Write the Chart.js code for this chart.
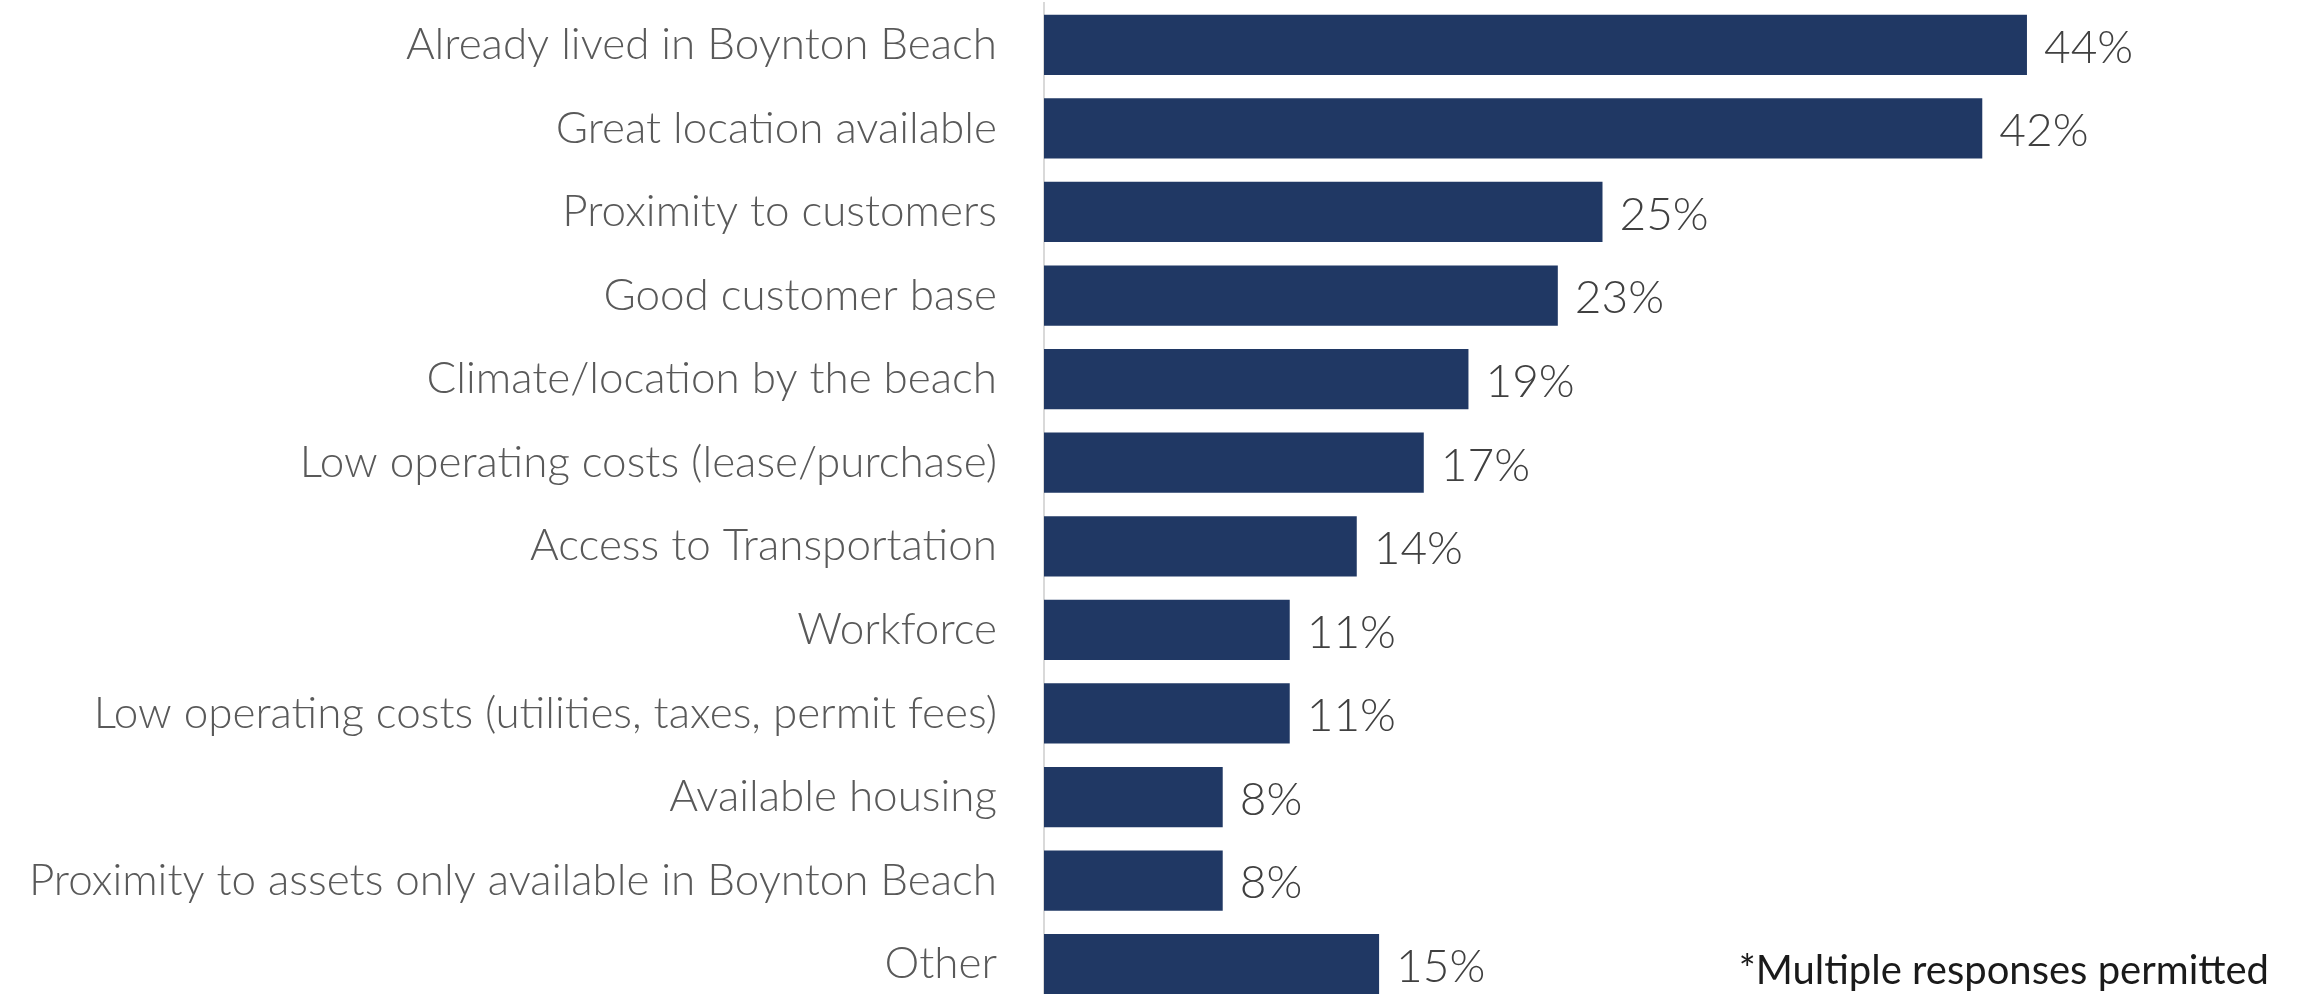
<!DOCTYPE html>
<html>
<head>
<meta charset="utf-8">
<script src="https://cdn.jsdelivr.net/npm/chart.js@4"></script>
<style>
  html, body { margin: 0; padding: 0; background: #fff; overflow: hidden; }
</style>
</head>
<body>
<canvas id="reasonsChart" width="2303" height="1006"></canvas>
<script>
// survey answers, top to bottom
const categories = [
    'Already lived in Boynton Beach',
    'Great location available',
    'Proximity to customers',
    'Good customer base',
    'Climate/location by the beach',
    'Low operating costs (lease/purchase)',
    'Access to Transportation',
    'Workforce',
    'Low operating costs (utilities, taxes, permit fees)',
    'Available housing',
    'Proximity to assets only available in Boynton Beach',
    'Other'
];
const values = [44, 42, 25, 23, 19, 17, 14, 11, 11, 8, 8, 15];
const footnote = '*Multiple responses permitted';

const FONT = 'Lato, "Open Sans", sans-serif';

// draws "44%" etc. just past the end of each bar
const valueLabels = {
    id: 'valueLabels',
    afterDatasetsDraw(chart) {
        const ctx = chart.ctx;
        const meta = chart.getDatasetMeta(0);
        ctx.save();
        ctx.font = '300 46px ' + FONT;
        ctx.fillStyle = '#404040';
        ctx.textAlign = 'left';
        ctx.textBaseline = 'middle';
        meta.data.forEach((bar, i) => {
            ctx.fillText(values[i] + '%', bar.x + 17, bar.y + 3);
        });
        ctx.restore();
    }
};

// footnote in the lower right corner
const noteText = {
    id: 'noteText',
    afterDraw(chart) {
        const ctx = chart.ctx;
        ctx.save();
        ctx.font = '40px ' + FONT;
        ctx.fillStyle = '#1a1a1a';
        ctx.textAlign = 'right';
        ctx.textBaseline = 'alphabetic';
        ctx.fillText(footnote, chart.width - 34, 984);
        ctx.restore();
    }
};

const ctx = document.getElementById('reasonsChart').getContext('2d');

const reasonsChart = new Chart(ctx, {
    type: 'bar',
    data: {
        labels: categories,
        datasets: [{
            data: values,
            backgroundColor: '#203864',
            borderWidth: 0,
            barPercentage: 0.72,
            categoryPercentage: 1.0
        }]
    },
    options: {
        indexAxis: 'y',
        responsive: false,
        animation: false,
        layout: {
            padding: { top: 3, right: 142, bottom: 0, left: 0 }
        },
        plugins: {
            legend: { display: false },
            tooltip: { enabled: false }
        },
        scales: {
            x: {
                display: false,
                min: 0,
                max: 50
            },
            y: {
                grid: { display: false, drawTicks: false },
                border: { display: true, color: '#d9d9d9', width: 2 },
                ticks: {
                    color: '#595959',
                    padding: 47,
                    font: { family: FONT, size: 44, weight: '300' }
                },
                afterFit: function(scale) {
                    scale.width = 1044;
                    scale.paddingTop = 0;
                    scale.paddingBottom = 0;
                }
            }
        }
    },
    plugins: [valueLabels, noteText]
});
</script>
</body>
</html>
